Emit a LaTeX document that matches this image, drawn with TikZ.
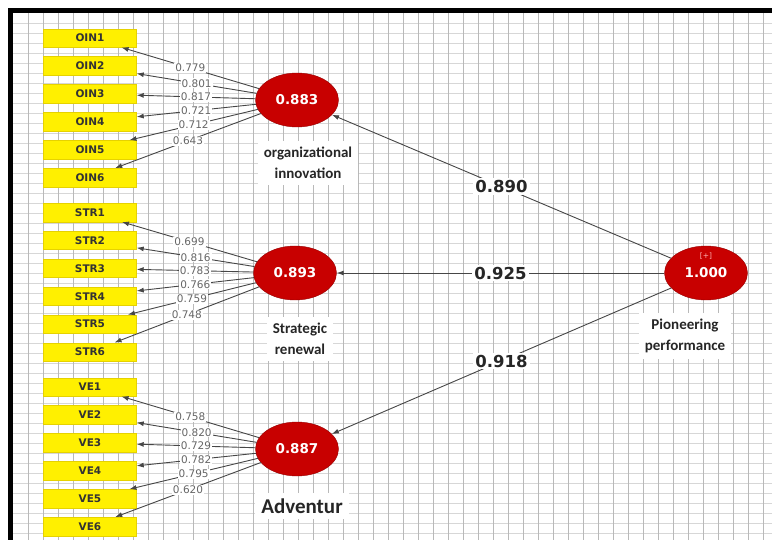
\documentclass[tikz,border=0pt]{standalone}
\usepackage{fontspec}
\setsansfont{DejaVu Sans}
\newfontfamily\calibfont{Carlito}
\usepackage{tikz}
\usetikzlibrary{arrows.meta,positioning,shapes.geometric}
\definecolor{boxyellow}{RGB}{255,240,0}
\definecolor{boxedge}{RGB}{230,210,0}
\definecolor{lvred}{RGB}{200,0,0}
\definecolor{lvedge}{RGB}{150,0,0}
\definecolor{gridv}{RGB}{185,185,185}
\definecolor{gridh}{RGB}{215,215,215}
\definecolor{linkgray}{RGB}{70,70,70}

\begin{document}
\begin{tikzpicture}[x=1pt,y=-1pt,
    node distance=9pt,
    ind/.style={draw=boxedge,fill=boxyellow,minimum width=93pt,minimum height=18.5pt,inner sep=0pt,
                font=\sffamily\bfseries\fontsize{10.5}{11}\selectfont,text=black!80},
    latent/.style={ellipse,draw=lvedge,fill=lvred,minimum width=83pt,minimum height=54pt,inner sep=0pt,
                   text=white,font=\sffamily\bfseries\fontsize{13.5}{15}\selectfont},
    lbl/.style={fill=white,align=center,text=black!85,inner sep=6pt,
                font=\calibfont\bfseries\fontsize{15}{21}\selectfont},
    link/.style={draw=linkgray,line width=0.9pt,-{Latex[length=7pt,width=5pt]}},
    load/.style={fill=white,inner sep=1pt,text=black!60,font=\sffamily\fontsize{10.5}{11}\selectfont},
    coef/.style={fill=white,inner sep=2pt,text=black!85,font=\sffamily\bfseries\fontsize{16.5}{18}\selectfont}]
  \useasboundingbox (0,0) rectangle (772,540);
  \fill[white] (0,0) rectangle (772,540);
  % background grid and frame
  \foreach \gy in {23,33,...,533}
    \draw[gridh,line width=0.7pt] (13,\gy) -- (772,\gy);
  \foreach \gx in {28,43,...,763}
    \draw[gridv,line width=0.7pt] (\gx,13) -- (\gx,540);
  \fill[black] (8,8) rectangle (772,13);
  \fill[black] (8,8) rectangle (13,540);

  % indicators
  \node[ind] (oin1) at (90,38) {OIN1};
  \node[ind,below=of oin1] (oin2) {OIN2};
  \node[ind,below=of oin2] (oin3) {OIN3};
  \node[ind,below=of oin3] (oin4) {OIN4};
  \node[ind,below=of oin4] (oin5) {OIN5};
  \node[ind,below=of oin5] (oin6) {OIN6};

  \node[ind] (str1) at (90,212.5) {STR1};
  \node[ind,below=of str1] (str2) {STR2};
  \node[ind,below=of str2] (str3) {STR3};
  \node[ind,below=of str3] (str4) {STR4};
  \node[ind,below=of str4] (str5) {STR5};
  \node[ind,below=of str5] (str6) {STR6};

  \node[ind] (ve1) at (90,387) {VE1};
  \node[ind,below=of ve1] (ve2) {VE2};
  \node[ind,below=of ve2] (ve3) {VE3};
  \node[ind,below=of ve3] (ve4) {VE4};
  \node[ind,below=of ve4] (ve5) {VE5};
  \node[ind,below=of ve5] (ve6) {VE6};

  % latent variables
  \node[latent] (oi)  at (297,100) {0.883};
  \node[latent] (sr)  at (295,273) {0.893};
  \node[latent] (adv) at (297,449) {0.887};
  \node[latent] (pp)  at (706,273) {1.000};
  \node[text=red!30,font=\sffamily\fontsize{7.5}{8}\selectfont] (ppsign) at (706,256) {[+]};

  \node[lbl] (oilbl)  at (308,163) {organizational\\innovation};
  \node[lbl] (srlbl)  at (300,339) {Strategic\\renewal};
  \node[lbl,font=\calibfont\bfseries\fontsize{21}{23}\selectfont] (advlbl) at (302,506) {Adventur};
  \node[lbl] (pplbl)  at (685,336) {Pioneering\\performance};

  % outer loadings
  \draw[link] (oi) -- node[load] {0.779} (oin1);
  \draw[link] (oi) -- node[load] {0.801} (oin2);
  \draw[link] (oi) -- node[load] {0.817} (oin3);
  \draw[link] (oi) -- node[load] {0.721} (oin4);
  \draw[link] (oi) -- node[load] {0.712} (oin5);
  \draw[link] (oi) -- node[load] {0.643} (oin6);

  \draw[link] (sr) -- node[load] {0.699} (str1);
  \draw[link] (sr) -- node[load] {0.816} (str2);
  \draw[link] (sr) -- node[load] {0.783} (str3);
  \draw[link] (sr) -- node[load] {0.766} (str4);
  \draw[link] (sr) -- node[load] {0.759} (str5);
  \draw[link] (sr) -- node[load] {0.748} (str6);

  \draw[link] (adv) -- node[load] {0.758} (ve1);
  \draw[link] (adv) -- node[load] {0.820} (ve2);
  \draw[link] (adv) -- node[load] {0.729} (ve3);
  \draw[link] (adv) -- node[load] {0.782} (ve4);
  \draw[link] (adv) -- node[load] {0.795} (ve5);
  \draw[link] (adv) -- node[load] {0.620} (ve6);

  % path coefficients
  \draw[link] (pp) -- node[coef] {0.890} (oi);
  \draw[link] (pp) -- node[coef] {0.925} (sr);
  \draw[link] (pp) -- node[coef] {0.918} (adv);
\end{tikzpicture}
\end{document}
